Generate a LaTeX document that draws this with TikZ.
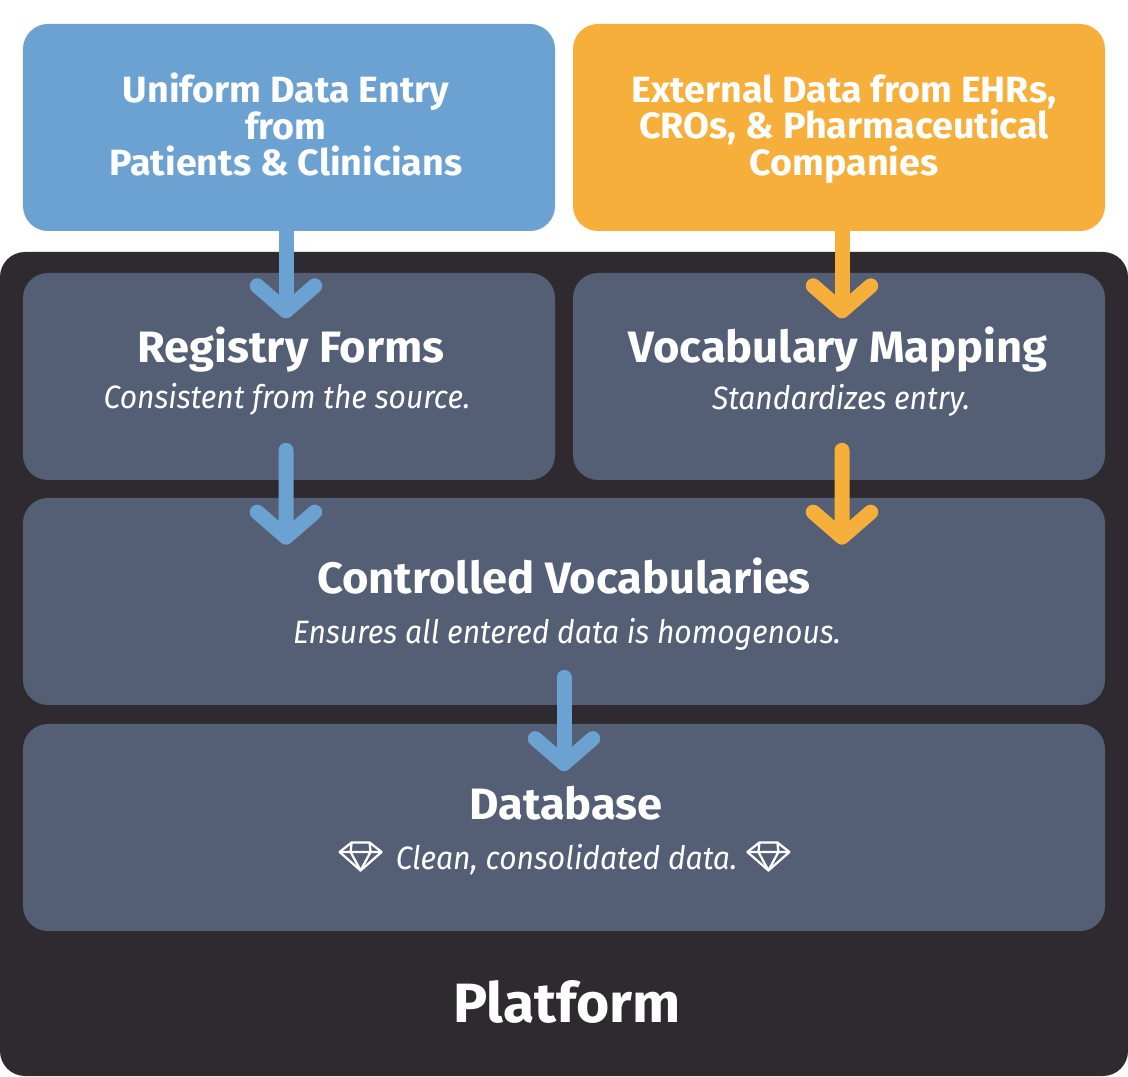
\documentclass[tikz,border=0pt]{standalone}
\usepackage{fontspec}
\setmainfont{Fira Sans}
\newfontfamily\headfont[FakeStretch=1.03]{Fira Sans Bold}
\newfontfamily\notefont[FakeStretch=0.93]{Fira Sans Italic}
\usetikzlibrary{arrows.meta,positioning}

\definecolor{entryBlue}{HTML}{6CA2D1}
\definecolor{externalOrange}{HTML}{F7AF3C}
\definecolor{platformDark}{HTML}{2F2A30}
\definecolor{stageSlate}{HTML}{545F75}

\tikzset{
  panel/.style={rounded corners=0.5cm, minimum width=10.64cm, minimum height=4.14cm, inner sep=0pt},
  widepanel/.style={panel, minimum width=21.64cm},
  stage/.style={panel, fill=stageSlate},
  widestage/.style={widepanel, fill=stageSlate},
  sourcetext/.style={text=white, align=center, font=\headfont\fontsize{20.8}{20.6}\selectfont},
  stagetitle/.style={text=white, font=\headfont\fontsize{25}{25}\selectfont},
  stagenote/.style={text=white, font=\notefont\fontsize{18.4}{18}\selectfont},
  flowarrow/.style={line width=0.3cm, line cap=round, -{Straight Barb[length=0.5cm,width=1.15cm,round]}},
  gemline/.style={draw=white, line width=0.045cm, line join=round},
  pics/gem/.style={code={
    \draw[gemline] (-0.18,0.28) -- (0.18,0.28) -- (0.42,0.09) -- (0,-0.28) -- (-0.42,0.09) -- cycle;
    \draw[gemline] (-0.42,0.09) -- (0.42,0.09) (-0.2,0.09) -- (0,-0.28) -- (0.2,0.09) (-0.18,0.28) -- (-0.2,0.09) (0.18,0.28) -- (0.2,0.09);
  }}
}

\begin{document}
\begin{tikzpicture}

\useasboundingbox (0, 0) rectangle (22.56, 21.52);

% Platform backdrop
\node[rounded corners=0.5cm, fill=platformDark, minimum width=22.56cm, minimum height=16.48cm, inner sep=0pt] (platform) at (11.28, 8.24) {};
\node[text=white, font=\headfont\fontsize{31.5}{31.5}\selectfont] (platformtitle) at (11.34, 1.48) {Platform};

% Data sources
\node[panel, fill=entryBlue] (entry) at (5.78, 18.97) {};
\node[sourcetext] (entrytext) at (5.72, 19.03) {Uniform Data Entry\\from\\Patients \& Clinicians};

\node[panel, fill=externalOrange] (external) at (16.78, 18.97) {};
\node[sourcetext] (externaltext) at (16.88, 18.94) {External Data from EHRs,\\CROs, \& Pharmaceutical\\Companies};

% Registry forms
\node[stage] (registry) at (5.78, 13.99) {};
\node[stagetitle] (registrytitle) at (5.82, 14.53) {Registry Forms};
\node[stagenote] (registrynote) at (5.74, 13.53) {Consistent from the source.};

% Vocabulary mapping
\node[stage] (mapping) at (16.78, 13.99) {};
\node[stagetitle] (mappingtitle) at (16.76, 14.53) {Vocabulary Mapping};
\node[stagenote] (mappingnote) at (16.82, 13.51) {Standardizes entry.};

% Controlled vocabularies
\node[widestage] (controlled) at (11.28, 9.49) {};
\node[stagetitle] (controlledtitle) at (11.28, 10.0) {Controlled Vocabularies};
\node[stagenote] (controllednote) at (11.34, 8.84) {Ensures all entered data is homogenous.};

% Database
\node[widestage] (database) at (11.28, 4.97) {};
\node[stagetitle] (databasetitle) at (11.32, 5.46) {Database};
\node[stagenote] (databasenote) at (11.33, 4.33) {Clean, consolidated data.};
\pic at ([xshift=-0.58cm, yshift=0.06cm]databasenote.west) {gem};
\pic at ([xshift=0.5cm, yshift=0.06cm]databasenote.east) {gem};

% Blue arrows
\draw[flowarrow, entryBlue] ([xshift=-0.06cm]entry.south) -- ([xshift=-0.06cm, yshift=-1.74cm]entry.south);
\draw[flowarrow, entryBlue] ([xshift=-0.06cm, yshift=0.6cm]registry.south) -- ([xshift=-5.56cm, yshift=-0.94cm]controlled.north);
\draw[flowarrow, entryBlue] ([yshift=0.56cm]controlled.south) -- ([yshift=-0.95cm]database.north);

% Orange arrows
\draw[flowarrow, externalOrange] ([xshift=0.06cm]external.south) -- ([xshift=0.06cm, yshift=-1.74cm]external.south);
\draw[flowarrow, externalOrange] ([xshift=0.06cm, yshift=0.6cm]mapping.south) -- ([xshift=5.56cm, yshift=-0.94cm]controlled.north);

\end{tikzpicture}
\end{document}
